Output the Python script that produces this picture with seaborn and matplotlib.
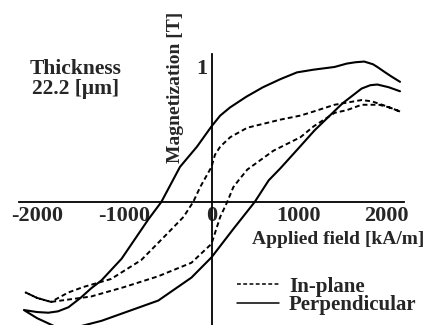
import numpy as np
import pandas as pd
import matplotlib
matplotlib.use("Agg")
import matplotlib.pyplot as plt
import seaborn as sns

# ---- data ----
# Perpendicular loop: descending branch then ascending branch
perp_down_x = [2160, 2060, 1990, 1900, 1850, 1750, 1650, 1550, 1410, 1170, 980, 790, 590, 400, 212, 100, 0, -166, -361, -575, -725, -1030, -1260, -1380, -1500, -1640, -1760, -1870, -2000, -2150]
perp_down_y = [0.89, 0.93, 0.96, 1.00, 1.02, 1.04, 1.035, 1.025, 1.00, 0.98, 0.96, 0.91, 0.85, 0.78, 0.70, 0.64, 0.56, 0.41, 0.26, 0.00, -0.13, -0.42, -0.58, -0.64, -0.71, -0.78, -0.81, -0.82, -0.815, -0.80]
perp_up_x = [-2150, -2000, -1900, -1800, -1700, -1600, -1500, -1260, -1000, -610, -230, 0, 250, 495, 655, 790, 1000, 1180, 1500, 1720, 1820, 1900, 2030, 2160]
perp_up_y = [-0.80, -0.86, -0.89, -0.92, -0.94, -0.935, -0.92, -0.88, -0.82, -0.73, -0.56, -0.41, -0.20, 0.00, 0.16, 0.25, 0.40, 0.53, 0.73, 0.84, 0.865, 0.87, 0.85, 0.82]

# In-plane loop
inpl_down_x = [2160, 2000, 1840, 1720, 1410, 1170, 1020, 790, 410, 215, 100, 40, 0, -130, -210, -320, -500, -805, -1150, -1470, -1640, -1840, -2000, -2130]
inpl_down_y = [0.67, 0.71, 0.745, 0.755, 0.72, 0.67, 0.64, 0.61, 0.55, 0.48, 0.41, 0.35, 0.26, 0.11, 0.00, -0.11, -0.23, -0.43, -0.57, -0.63, -0.67, -0.74, -0.71, -0.67]
inpl_up_x = [-2130, -2000, -1840, -1380, -1000, -610, -230, 0, 100, 180, 250, 310, 410, 710, 1020, 1170, 1410, 1550, 1720, 1920, 2040, 2160]
inpl_up_y = [-0.67, -0.71, -0.74, -0.70, -0.63, -0.55, -0.45, -0.31, -0.11, 0.00, 0.11, 0.16, 0.24, 0.38, 0.48, 0.56, 0.66, 0.68, 0.72, 0.72, 0.70, 0.67]

x_ticks = [-2000, -1000, 0, 1000, 2000]
x_minor = [-1500, -500, 500, 1500]
y_ticks = [1]
y_minor = [-0.5, 0.5]

labels = ["In-plane", "Perpendicular"]

sns.set_style("white")
plt.rcParams["font.family"] = ["Liberation Serif", "DejaVu Serif"]
plt.rcParams["font.weight"] = "bold"
plt.rcParams["axes.unicode_minus"] = False

fig = plt.figure(figsize=(4.25, 3.25), dpi=100)
ax = fig.add_axes([19.5 / 425, 0.0, 384 / 425, 271 / 325])

perp = pd.DataFrame({"H": perp_down_x + perp_up_x, "M": perp_down_y + perp_up_y})
inpl = pd.DataFrame({"H": inpl_down_x + inpl_up_x, "M": inpl_down_y + inpl_up_y})

sns.lineplot(data=inpl, x="H", y="M", sort=False, estimator=None, ax=ax,
             color="black", lw=1.4, linestyle=(0, (2.5, 1.6)), label=labels[0])
sns.lineplot(data=perp, x="H", y="M", sort=False, estimator=None, ax=ax,
             color="black", lw=1.5, label=labels[1])

for s in ["top", "right"]:
    ax.spines[s].set_visible(False)
for s in ["left", "bottom"]:
    ax.spines[s].set_position(("data", 0))
    ax.spines[s].set_linewidth(1.3)
    ax.spines[s].set_color("black")

ax.set_xticks(x_ticks)
ax.set_xticks(x_minor, minor=True)
ax.set_yticks(y_ticks)
ax.set_yticklabels([str(v) for v in y_ticks])
ax.set_yticks(y_minor, minor=True)
ax.set_xlim(-2200, 2200)
ax.set_ylim(-0.911, 1.096)
ax.tick_params(which="major", direction="in", length=8, width=1.2, color="black",
               labelsize=16, pad=3)
ax.tick_params(which="minor", direction="in", length=4, width=1.2, color="black")
for t in ax.get_xticklabels() + ax.get_yticklabels():
    t.set_fontweight("bold")

ax.set_ylabel("Magnetization [T]", fontsize=14, fontweight="bold", rotation=90,
              ha="center", va="center")
ax.yaxis.set_label_coords((175 - 19.5) / 384, (325 - 87) / 271)
ax.set_xlabel("Applied field [kA/m]", fontsize=14, fontweight="bold",
              ha="center", va="center")
ax.xaxis.set_label_coords((338 - 19.5) / 384, (325 - 240) / 271)

ax.text((76 - 19.5) / 384, (325 - 79) / 271, "Thickness\n22.2 [\u03bcm]",
        transform=ax.transAxes, ha="center", va="center", multialignment="center",
        fontsize=15.5, fontweight="bold", linespacing=1.05)

leg = ax.legend(loc="center left", bbox_to_anchor=(237 / 425, 1 - 296 / 325),
                bbox_transform=fig.transFigure, frameon=False,
                handlelength=2.0, handletextpad=0.5, labelspacing=-0.05,
                borderpad=0, borderaxespad=0, prop={"weight": "bold", "size": 15})
for line in leg.get_lines():
    line.set_linewidth(1.1)

fig.savefig("out.png", dpi=100)
